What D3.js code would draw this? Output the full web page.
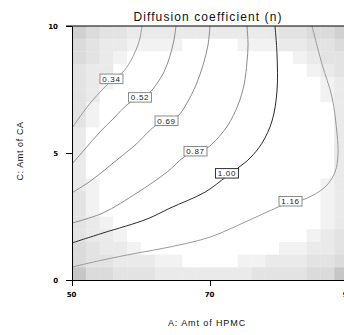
<!DOCTYPE html>
<html>
<head>
<meta charset="utf-8">
<script src="https://cdn.jsdelivr.net/npm/d3@7"></script>
<style>
  html, body { margin: 0; padding: 0; background: #fff; }
  svg { display: block; font-family: "Liberation Sans", Arial, sans-serif; }
</style>
</head>
<body>
<div id="chart"></div>
<script>
// contour plot: Diffusion coefficient (n), A = Amt of HPMC, C = Amt of CA

const width = 344;
const height = 335;

const xTicks = [50, 70, 90];
const yTicks = [0, 5, 10];
const xLabels = ["50", "70", "90"];
const yLabels = ["0", "5", "10"];

// contour levels and the traced lines, [A, C] pairs
const levels = [0.34, 0.52, 0.69, 0.87, 1.00, 1.16];
const levelText = ["0.34", "0.52", "0.69", "0.87", "1.00", "1.16"];

const line034 = [[60.14,10],[59.86,9.53],[59.28,9.06],[58.41,8.58],[57.39,8.19],[55.80,7.87],[54.35,7.48],[52.90,7.05],[51.45,6.54],[50,5.98]];
const line052 = [[65.07,10],[64.78,9.45],[64.20,8.82],[63.33,8.19],[62.17,7.68],[61.01,7.32],[59.57,7.13],[58.12,6.93],[56.09,6.38],[54.06,5.83],[52.03,5.20],[50,4.57]];
const line069 = [[70.0,10],[69.71,9.25],[68.99,8.46],[67.97,7.68],[66.67,6.97],[65.36,6.46],[63.62,6.26],[62.03,6.06],[59.13,5.31],[55.80,4.57],[52.90,3.94],[50,3.43]];
const line087 = [[75.36,10],[75.51,9.25],[75.36,8.58],[74.93,7.68],[74.06,6.89],[72.61,6.10],[70.87,5.51],[69.57,5.20],[67.83,5.04],[66.23,4.84],[63.77,4.25],[59.42,3.43],[54.49,2.64],[50,2.24]];
const line100 = [[79.42,10],[79.71,8.90],[79.71,7.44],[78.99,6.26],[77.54,5.39],[75.80,4.80],[74.06,4.41],[72.32,4.06],[69.28,3.46],[64.20,2.83],[60.87,2.40],[54.49,1.85],[50,1.46]];
const line116 = [[84.78,10],[86.23,8.50],[87.68,7.20],[88.41,5.75],[88.55,4.96],[88.12,4.25],[86.67,3.66],[83.77,3.19],[81.74,3.07],[79.86,2.87],[75.07,2.28],[70.0,1.69],[64.20,1.30],[59.42,1.06],[54.49,0.79],[50,0.51]];

const labelAt = [[55.72,7.93],[59.86,7.20],[63.70,6.28],[67.90,5.08],[72.46,4.21],[81.67,3.11]];

// background shading (standard error), 20 x 20 cells, top row = C 10, digit = shade step
const seRows = [
  "54332222222222233445",
  "43221111000011122334",
  "43210000000000001233",
  "32200000000000000123",
  "32100000000000000012",
  "32000000000000000012",
  "31000000000000000002",
  "31000000000000000002",
  "20000000000000000002",
  "20000000000000000002",
  "20000000000000000002",
  "20000000000000000002",
  "21000000000000000012",
  "31000000000000000012",
  "31000000000000000012",
  "32100000000000000012",
  "32210000000000000123",
  "43221000000000011223",
  "43322211000011222334",
  "64433322222223333446"
];
const shades = ["#ffffff", "#f2f2f2", "#eaeaea", "#e3e3e3", "#dbdbdb", "#d1d1d1", "#c6c6c6"];

const x = d3.scaleLinear().domain([50, 90]).range([72, 348]);
const y = d3.scaleLinear().domain([0, 10]).range([280, 26]);

const svg = d3.select("#chart").append("svg")
    .attr("width", width)
    .attr("height", height);

// shading cells
const nCol = seRows[0].length, nRow = seRows.length;
const cw = (90 - 50) / nCol, ch = 10 / nRow;
const cells = [];
seRows.forEach((row, j) => {
  row.split("").forEach((d, i) => {
    cells.push({a: 50 + i * cw, c: 10 - j * ch, v: +d});
  });
});
svg.append("g").selectAll("rect").data(cells).join("rect")
    .attr("x", d => x(d.a))
    .attr("y", d => y(d.c))
    .attr("width", x(50 + cw) - x(50) + 0.3)
    .attr("height", y(10 - ch) - y(10) + 0.3)
    .attr("fill", d => shades[d.v]);

// contour lines
const lines = [line034, line052, line069, line087, line100, line116];
const lineColor = ["#9a9a9a", "#8c8c8c", "#8c8c8c", "#8c8c8c", "#2a2a2a", "#9a9a9a"];
const path = d3.line().x(d => x(d[0])).y(d => y(d[1])).curve(d3.curveCatmullRom.alpha(0.5));

svg.append("g").selectAll("path").data(lines).join("path")
    .attr("d", path)
    .attr("fill", "none")
    .attr("stroke", (d, i) => lineColor[i])
    .attr("stroke-width", 1);

// labels on the lines
const lab = svg.append("g").selectAll("g").data(levels).join("g")
    .attr("transform", (d, i) => `translate(${x(labelAt[i][0])},${y(labelAt[i][1])})`);
lab.append("rect")
    .attr("x", -11.5).attr("y", -4.5)
    .attr("width", 23).attr("height", 9.5)
    .attr("fill", "#fff")
    .attr("stroke", (d, i) => i === 4 ? "#333" : "#8a8a8a")
    .attr("stroke-width", 1);
lab.append("text")
    .attr("text-anchor", "middle")
    .attr("y", 3.2)
    .attr("font-size", "8px")
    .attr("letter-spacing", "0.7px")
    .attr("fill", "#222")
    .text((d, i) => levelText[i]);

// frame
svg.append("line")
    .attr("x1", x(50) - 6).attr("x2", x(90))
    .attr("y1", y(10)).attr("y2", y(10))
    .attr("stroke", "#000");

const yAxis = d3.axisLeft(y).tickValues(yTicks).tickSize(6).tickSizeOuter(0).tickPadding(8)
    .tickFormat((d, i) => yLabels[i]);
const xAxis = d3.axisBottom(x).tickValues(xTicks).tickSize(6).tickSizeOuter(0).tickPadding(6)
    .tickFormat((d, i) => xLabels[i]);

const gy = svg.append("g").attr("transform", `translate(${x(50)},0)`).call(yAxis);
const gx = svg.append("g").attr("transform", `translate(0,${y(0)})`).call(xAxis);
[gx, gy].forEach(g => {
  g.selectAll("text")
    .attr("font-family", "DejaVu Sans, sans-serif")
    .attr("font-size", "7px")
    .attr("font-weight", "bold")
    .attr("fill", "#000");
  g.select(".domain").attr("stroke", "#000");
});
gx.selectAll("text").attr("dx", "-1px");
gy.selectAll("text").attr("dy", "0.36em");

// titles
svg.append("text")
    .attr("x", 208).attr("y", 21)
    .attr("text-anchor", "middle")
    .attr("font-size", "12px")
    .attr("letter-spacing", "1.1px")
    .attr("fill", "#111")
    .text("Diffusion coefficient (n)");

svg.append("text")
    .attr("x", 207).attr("y", 326)
    .attr("text-anchor", "middle")
    .attr("font-size", "9px")
    .attr("letter-spacing", "0.9px")
    .attr("fill", "#111")
    .text("A: Amt of HPMC");

svg.append("text")
    .attr("transform", "translate(23,151) rotate(-90)")
    .attr("text-anchor", "middle")
    .attr("font-size", "9px")
    .attr("letter-spacing", "0.6px")
    .attr("fill", "#111")
    .text("C: Amt of CA");
</script>
</body>
</html>
